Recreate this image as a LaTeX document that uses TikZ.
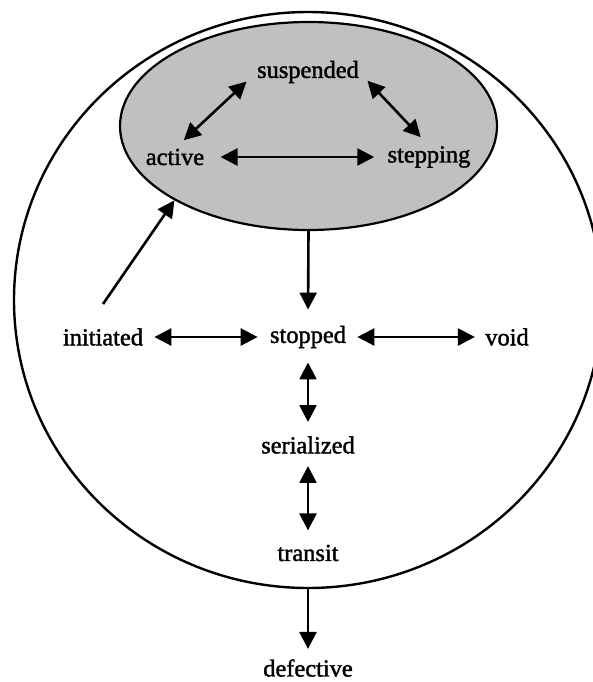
\documentclass[tikz,border=0pt]{standalone}
\usepackage{fontspec}
\setmainfont{Liberation Serif}
\newfontfamily\lblfont[FakeBold=1.6]{Liberation Serif}
\usetikzlibrary{arrows.meta,shapes.geometric,calc}
\begin{document}
\begin{tikzpicture}[x=0.5pt,y=-0.5pt,
  lbl/.style={inner sep=0pt,font=\lblfont\fontsize{12.2}{14}\selectfont},
  conn/.style={line width=1.3pt},
  both/.style={conn,{Triangle[length=8.5pt,width=8.5pt]}-{Triangle[length=8.5pt,width=8.5pt]}},
  one/.style={conn,-{Triangle[length=8.5pt,width=8.5pt]}}]
\useasboundingbox (0,0) rectangle (593,682);
\node[draw,line width=1.2pt,ellipse,minimum width=294pt,minimum height=288pt,inner sep=0pt] (outer) at (308,300) {};
\node[draw,line width=1.1pt,fill={rgb,255:red,192;green,192;blue,192},ellipse,minimum width=188.5pt,minimum height=104pt,inner sep=0pt] (grp) at (308.5,126) {};
\node[lbl] (suspended) at (308,72) {suspended};
\node[lbl] (active) at (175,157) {active};
\node[lbl] (stepping) at (429,157) {stepping};
\node[lbl] (initiated) at (103,337) {initiated};
\node[lbl] (stopped) at (308,337) {stopped};
\node[lbl] (void) at (507,337) {void};
\node[lbl] (serialized) at (308,445) {serialized};
\node[lbl] (transit) at (308,553) {transit};
\node[lbl] (defective) at (308,668) {defective};
\draw[both,shorten <=7pt,shorten >=6pt] (suspended.west) -- (active.north);
\draw[both,shorten <=6pt,shorten >=6pt] (suspended.east) -- (stepping.north);
\draw[both,shorten <=8pt,shorten >=6.5pt] (active.east) -- (stepping.west);
\draw[one,shorten >=8pt] (grp.south) -- (stopped.north);
\draw[one] ([yshift=12pt]initiated.north) -- (grp.south west);
\draw[both,shorten <=5.5pt,shorten >=6pt] (initiated.east) -- (stopped.west);
\draw[both,shorten <=5.5pt,shorten >=5pt] (stopped.east) -- (void.west);
\draw[both,shorten <=7pt,shorten >=7pt] (stopped.south) -- (serialized.north);
\draw[both,shorten <=6pt,shorten >=7pt] (serialized.south) -- (transit.north);
\draw[one,shorten >=5pt] (outer.south) -- (defective.north);
\end{tikzpicture}
\end{document}
